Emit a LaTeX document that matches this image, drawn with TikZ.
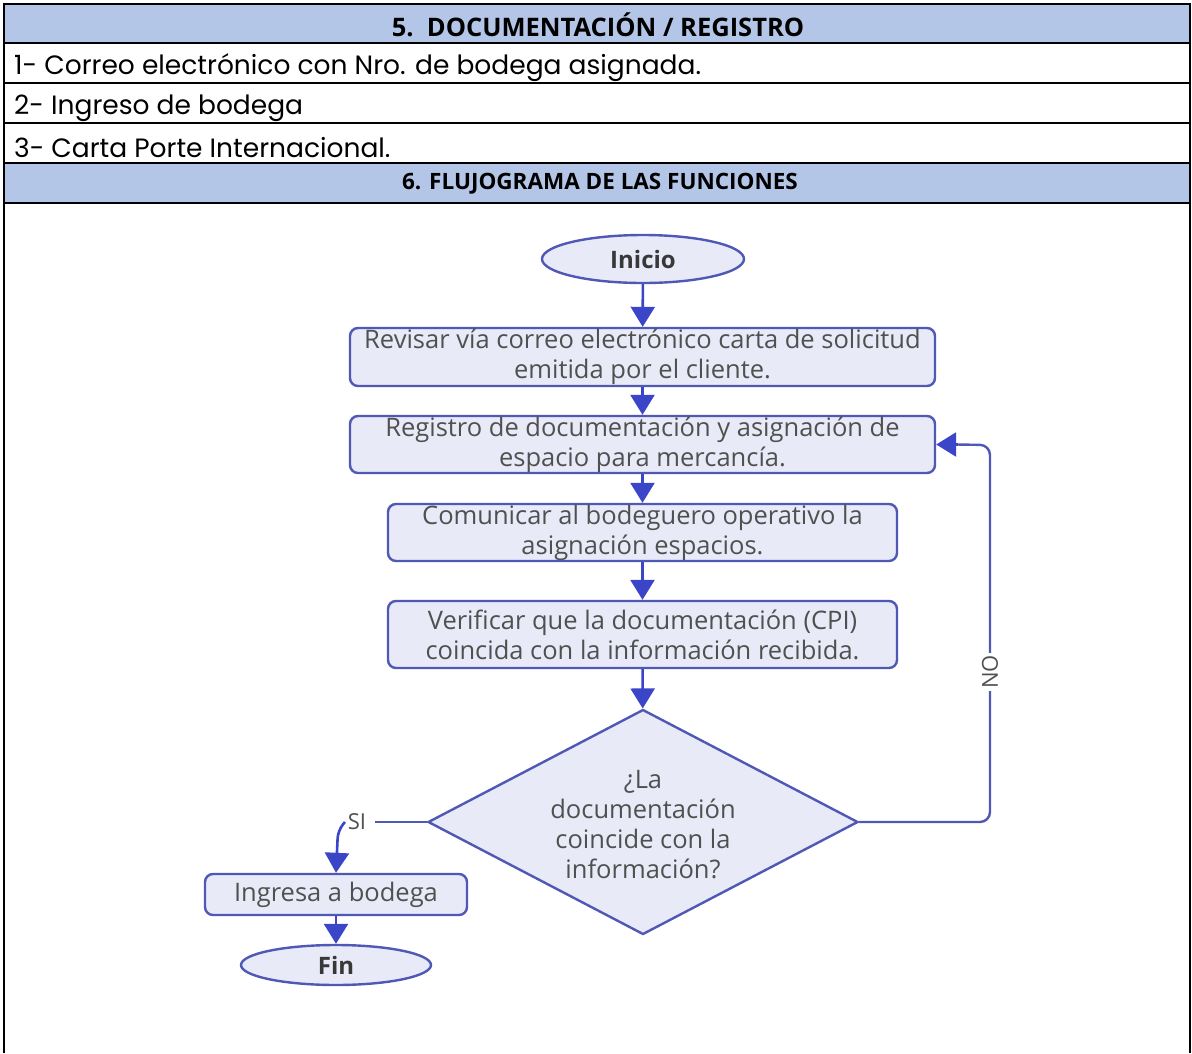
\documentclass[tikz,border=0pt]{standalone}
\usepackage{fontspec}
\setmainfont{Poppins}
\newfontfamily\hdfont{Open Sans}
\newfontfamily\flfont{Open Sans}
\usetikzlibrary{shapes.geometric,arrows.meta}
\definecolor{hdblue}{HTML}{B4C6E7}
\definecolor{boxfill}{HTML}{E8EAF7}
\definecolor{boxline}{HTML}{5058B5}
\definecolor{arrblue}{HTML}{3B45C8}
\definecolor{txtgray}{HTML}{505050}
\tikzset{
  rowtext/.style={anchor=west,inner sep=0pt,font=\fontsize{26.5}{30}\selectfont},
  hdtext/.style={inner sep=0pt,font=\hdfont\bfseries\fontsize{25.5}{28}\selectfont},
  hdtextsmall/.style={inner sep=0pt,font=\hdfont\bfseries\fontsize{22.5}{24}\selectfont},
  procbox/.style={draw=boxline,fill=boxfill,line width=2.4pt,rounded corners=8pt,
    align=center,text=txtgray,inner sep=0pt,font=\flfont\fontsize{25.5}{30}\selectfont},
  termnode/.style={draw=boxline,fill=boxfill,line width=2.4pt,ellipse,inner sep=0pt,
    text=txtgray!70!black,font=\flfont\bfseries\fontsize{24}{26}\selectfont},
  decnode/.style={draw=boxline,fill=boxfill,line width=2.4pt,diamond,inner sep=0pt},
  dectext/.style={align=center,text=txtgray,inner sep=0pt,font=\flfont\fontsize{25.5}{30}\selectfont},
  flow/.style={draw=arrblue,line width=2.6pt,-{Triangle[width=24pt,length=20pt]}},
  flowline/.style={draw=boxline,line width=2.4pt},
  lbl/.style={fill=white,inner sep=2pt,text=txtgray,font=\flfont\fontsize{22}{24}\selectfont},
}
\begin{document}
\begin{tikzpicture}[x=1pt,y=-1pt]
\useasboundingbox (0,0) rectangle (1192,1053);
\fill[white] (0,0) rectangle (1192,1053);
% table
\fill[hdblue] (4,4) rectangle (1190,43);
\fill[hdblue] (4,163) rectangle (1190,203);
\draw[line width=2.5pt] (4,1053) -- (4,4) -- (1190,4) -- (1190,1053);
\foreach \yy in {43,83,123,163,203} \draw[line width=2.5pt] (4,\yy) -- (1190,\yy);
\node[hdtext] (h5) at (598,25) {5.\ \ DOCUMENTACIÓN / REGISTRO};
\node[rowtext] (r1) at (14,68) {1- Correo electrónico con Nro. de bodega asignada.};
\node[rowtext] (r2) at (14,108) {2- Ingreso de bodega};
\node[rowtext] (r3) at (14,148) {3- Carta Porte Internacional.};
\node[hdtextsmall] (h6) at (600,184) {6. FLUJOGRAMA DE LAS FUNCIONES};
% flowchart
\node[termnode,minimum width=202pt,minimum height=48pt] (ini) at (643,259) {Inicio};
\node[procbox,minimum width=585pt,minimum height=58pt] (b1) at (642.5,357)
  {Revisar vía correo electrónico carta de solicitud\\emitida por el cliente.};
\node[procbox,minimum width=585pt,minimum height=57pt] (b2) at (642.5,444.5)
  {Registro de documentación y asignación de\\espacio para mercancía.};
\node[procbox,minimum width=509pt,minimum height=57pt] (b3) at (642.5,532.5)
  {Comunicar al bodeguero operativo la\\asignación espacios.};
\node[procbox,minimum width=509pt,minimum height=67pt] (b4) at (642.5,634.5)
  {Verificar que la documentación (CPI)\\coincida con la información recibida.};
\node[decnode,minimum width=430pt,minimum height=225pt] (dia) at (643,822) {};
\node[dectext] (diat) at (643,825) {¿La\\documentación\\coincide con la\\información?};
\node[procbox,minimum width=262pt,minimum height=41pt] (b5) at (336,894.5) {Ingresa a bodega};
\node[termnode,minimum width=190pt,minimum height=40pt] (fin) at (336,965) {Fin};
\draw[flow] (ini) -- (b1);
\draw[flow] (b1) -- (b2);
\draw[flow] (b2) -- (b3);
\draw[flow] (b3) -- (b4);
\draw[flow] (b4) -- (dia);
\draw[flow] (b5) -- (fin);
% NO loop
\coordinate (noA) at (990,822);
\coordinate (noB) at (990,445);
\draw[flowline,rounded corners=10pt] (dia.east) -- (noA) -- (noB) -- ([xshift=20pt]b2.east);
\draw[flow] ([xshift=22pt]b2.east) -- (b2.east);
\node[lbl,rotate=90] (nol) at (990,672) {NO};
% SI branch
\coordinate (siA) at (338,822);
\draw[flowline] (dia.west) -- (375,822);
\node[lbl] (sil) at (357,822) {SI};
\draw[flow,rounded corners=8pt] (345,822) -- (338,830) -- (b5.north);
\end{tikzpicture}
\end{document}
